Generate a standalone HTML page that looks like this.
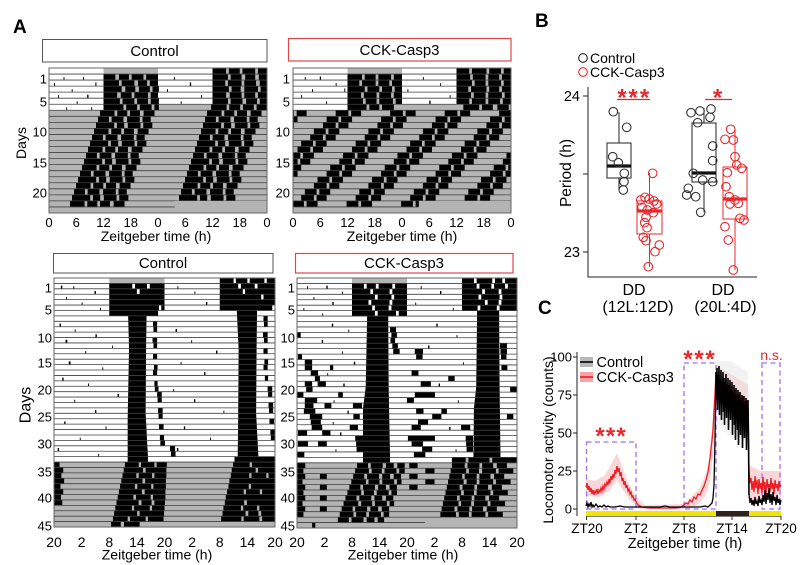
<!DOCTYPE html>
<html><head><meta charset="utf-8"><style>
html,body{margin:0;padding:0;background:#fff}
svg{display:block}
text{font-family:"Liberation Sans",Arial,sans-serif;fill:#000}
</style></head><body>
<svg width="800" height="565" viewBox="0 0 800 565" xmlns="http://www.w3.org/2000/svg">
<defs>
<path id="sE" d="M-15.2 0h2.6v1h-2.6z M-12 0h2.4v1h-2.4z M-3.2 0h2.6v1h-2.6z M0 0h2.4v1h-2.4z M8.8 0h2.6v1h-2.6z M12 0h2.4v1h-2.4z M20.8 0h2.6v1h-2.6z M24 0h2.4v1h-2.4z M32.8 0h2.6v1h-2.6z M36 0h2.4v1h-2.4z M44.8 0h2.6v1h-2.6z M48 0h2.4v1h-2.4z"/>
<path id="sO" d="M-14.6 0h2.8v1h-2.8z M-11.2 0h2.2v1h-2.2z M-2.6 0h2.8v1h-2.8z M0.8 0h2.2v1h-2.2z M9.4 0h2.8v1h-2.8z M12.8 0h2.2v1h-2.2z M21.4 0h2.8v1h-2.8z M24.8 0h2.2v1h-2.2z M33.4 0h2.8v1h-2.8z M36.8 0h2.2v1h-2.2z M45.4 0h2.8v1h-2.8z M48.8 0h2.2v1h-2.2z"/>
<clipPath id="ctr"><rect x="0" y="0" width="48" height="24"/></clipPath>
</defs>
<rect width="800" height="565" fill="#fff"/>

<!-- ================= PANEL A ================= -->
<text x="13" y="33" font-size="19" font-weight="bold">A</text>

<!-- Top-left Control -->
<rect x="42.5" y="39.5" width="224.5" height="22.5" fill="#fff" stroke="#555" stroke-width="1"/>
<text x="154.5" y="56" font-size="15" text-anchor="middle">Control</text>
<g transform="translate(49,68) scale(4.5417,6.04)">
<rect x="0" y="0" width="48" height="24" fill="#b4b4b4"/>
<rect x="0" y="0" width="12" height="7" fill="#fff"/>
<rect x="24" y="0" width="12" height="6" fill="#fff"/>
<path fill="#000" d="M36 0h3v1h-3z M39.6 0h2.4v1h-2.4z M42.6 0h2.8v1h-2.8z M46 0h2v1h-2z
M12 1h2.6v1h-2.6z M15.4 1h2.2v1h-2.2z M18.2 1h2.6v1h-2.6z M21.4 1h2.6v1h-2.6z M36 1h3.4v1h-3.4z M40 1h2.4v1h-2.4z M43.2 1h2.2v1h-2.2z M46.2 1h1.8v1h-1.8z
M12 2h3.4v1h-3.4z M16 2h2.8v1h-2.8z M19.6 2h2v1h-2z M22.2 2h1.8v1h-1.8z M36 2h2.8v1h-2.8z M39.4 2h3v1h-3z M43 2h2.6v1h-2.6z M46.4 2h1.6v1h-1.6z
M12 3h4v1h-4z M16.8 3h2.2v1h-2.2z M19.8 3h2.4v1h-2.4z M22.8 3h1.4v1h-1.4z M36 3h3.6v1h-3.6z M40.2 3h2v1h-2z M43 3h3v1h-3z M46.6 3h1.4v1h-1.4z
M12 4h3v1h-3z M15.8 4h2.4v1h-2.4z M18.8 4h3v1h-3z M22.4 4h1.6v1h-1.6z M36 4h3v1h-3z M39.8 4h2.6v1h-2.6z M43 4h2.4v1h-2.4z M46 4h2v1h-2z
M12 5h3.6v1h-3.6z M16.2 5h2.6v1h-2.6z M19.4 5h2.4v1h-2.4z M22.4 5h1.8v1h-1.8z M36 5h3.4v1h-3.4z M40 5h2.6v1h-2.6z M43.4 5h2.4v1h-2.4z M46.4 5h1.6v1h-1.6z
M12 6h4.4v1h-4.4z M17 6h2.4v1h-2.4z M20 6h2.6v1h-2.6z M23.2 6h1v1h-1z M35.7 6h3.4v1h-3.4z M39.7 6h2.4v1h-2.4z M42.7 6h2.4v1h-2.4z M45.7 6h2.3v1h-2.3z
M11.23 7h3.2v1h-3.2z M15.03 7h2.2v1h-2.2z M17.83 7h2.2v1h-2.2z M20.83 7h2.4v1h-2.4z M34.79 7h3.2v1h-3.2z M38.59 7h2.2v1h-2.2z M41.39 7h2.2v1h-2.2z M44.39 7h2.4v1h-2.4z
M10.79 8h2.4v1h-2.4z M13.79 8h2.6v1h-2.6z M17.19 8h2.8v1h-2.8z M20.59 8h1.8v1h-1.8z M34.35 8h2.4v1h-2.4z M37.35 8h2.6v1h-2.6z M40.75 8h2.8v1h-2.8z M44.15 8h1.8v1h-1.8z
M10.35 9h4v1h-4z M14.95 9h1.6v1h-1.6z M17.35 9h2.8v1h-2.8z M20.75 9h2v1h-2z M33.91 9h4v1h-4z M38.51 9h1.6v1h-1.6z M40.91 9h2.8v1h-2.8z M44.31 9h2v1h-2z
M9.91 10h3.2v1h-3.2z M13.71 10h2.2v1h-2.2z M16.51 10h2.2v1h-2.2z M19.51 10h2.4v1h-2.4z M33.47 10h3.2v1h-3.2z M37.27 10h2.2v1h-2.2z M40.07 10h2.2v1h-2.2z M43.07 10h2.4v1h-2.4z
M9.47 11h2.4v1h-2.4z M12.47 11h2.6v1h-2.6z M15.87 11h2.8v1h-2.8z M19.27 11h1.8v1h-1.8z M33.03 11h2.4v1h-2.4z M36.03 11h2.6v1h-2.6z M39.43 11h2.8v1h-2.8z M42.83 11h1.8v1h-1.8z
M9.03 12h4v1h-4z M13.63 12h1.6v1h-1.6z M16.03 12h2.8v1h-2.8z M19.43 12h2v1h-2z M32.59 12h4v1h-4z M37.19 12h1.6v1h-1.6z M39.59 12h2.8v1h-2.8z M42.99 12h2v1h-2z
M8.59 13h3.2v1h-3.2z M12.39 13h2.2v1h-2.2z M15.19 13h2.2v1h-2.2z M18.19 13h2.4v1h-2.4z M32.15 13h3.2v1h-3.2z M35.95 13h2.2v1h-2.2z M38.75 13h2.2v1h-2.2z M41.75 13h2.4v1h-2.4z
M8.15 14h2.4v1h-2.4z M11.15 14h2.6v1h-2.6z M14.55 14h2.8v1h-2.8z M17.95 14h1.8v1h-1.8z M31.71 14h2.4v1h-2.4z M34.71 14h2.6v1h-2.6z M38.11 14h2.8v1h-2.8z M41.51 14h1.8v1h-1.8z
M7.71 15h4v1h-4z M12.31 15h1.6v1h-1.6z M14.71 15h2.8v1h-2.8z M18.11 15h2v1h-2z M31.27 15h4v1h-4z M35.87 15h1.6v1h-1.6z M38.27 15h2.8v1h-2.8z M41.67 15h2v1h-2z
M7.27 16h3.2v1h-3.2z M11.07 16h2.2v1h-2.2z M13.87 16h2.2v1h-2.2z M16.87 16h2.4v1h-2.4z M30.83 16h3.2v1h-3.2z M34.63 16h2.2v1h-2.2z M37.43 16h2.2v1h-2.2z M40.43 16h2.4v1h-2.4z
M6.83 17h2.4v1h-2.4z M9.83 17h2.6v1h-2.6z M13.23 17h2.8v1h-2.8z M16.63 17h1.8v1h-1.8z M30.39 17h2.4v1h-2.4z M33.39 17h2.6v1h-2.6z M36.79 17h2.8v1h-2.8z M40.19 17h1.8v1h-1.8z
M6.39 18h4v1h-4z M10.99 18h1.6v1h-1.6z M13.39 18h2.8v1h-2.8z M16.79 18h2v1h-2z M29.95 18h4v1h-4z M34.55 18h1.6v1h-1.6z M36.95 18h2.8v1h-2.8z M40.35 18h2v1h-2z
M5.95 19h3.2v1h-3.2z M9.75 19h2.2v1h-2.2z M12.55 19h2.2v1h-2.2z M15.55 19h2.4v1h-2.4z M29.51 19h3.2v1h-3.2z M33.31 19h2.2v1h-2.2z M36.11 19h2.2v1h-2.2z M39.11 19h2.4v1h-2.4z
M5.51 20h2.4v1h-2.4z M8.51 20h2.6v1h-2.6z M11.91 20h2.8v1h-2.8z M15.31 20h1.8v1h-1.8z M29.07 20h2.4v1h-2.4z M32.07 20h2.6v1h-2.6z M35.47 20h2.8v1h-2.8z M38.87 20h1.8v1h-1.8z
M5.07 21h4v1h-4z M9.67 21h1.6v1h-1.6z M12.07 21h2.8v1h-2.8z M15.47 21h2v1h-2z M28.63 21h4v1h-4z M33.23 21h1.6v1h-1.6z M35.63 21h2.8v1h-2.8z M39.03 21h2v1h-2z
M4.63 22h3.2v1h-3.2z M8.43 22h2.2v1h-2.2z M11.23 22h2.2v1h-2.2z M14.23 22h2.4v1h-2.4z
M3.2 1.5h.2v.5h-.2z M7.5 1.5h.2v.5h-.2z M1.1 2.5h.2v.5h-.2z M10.2 2.4h.25v.6h-.25z M5 3.5h.2v.5h-.2z M2 4.5h.2v.5h-.2z M8.4 4.4h.3v.6h-.3z M6.1 5.5h.2v.5h-.2z M3.8 6.5h.2v.5h-.2z M9.3 6.5h.2v.5h-.2z M27.5 1.5h.2v.5h-.2z M31 2.4h.3v.6h-.3z M26 3.5h.2v.5h-.2z M33.5 4.5h.2v.5h-.2z M29 5.5h.2v.5h-.2z"/>
<path d="M0 1H48M0 2H48M0 3H48M0 4H48M0 5H48M0 6H48M0 7H48M0 8H48M0 9H48M0 10H48M0 11H48M0 12H48M0 13H48M0 14H48M0 15H48M0 16H48M0 17H48M0 18H48M0 19H48M0 20H48M0 21H48M0 22H48M0 23H48" stroke="#404040" stroke-width="0.8" vector-effect="non-scaling-stroke" fill="none"/>
<rect x="27.7" y="22" width="20.3" height="2" fill="#b4b4b4"/>
</g>
<rect x="49" y="68" width="218" height="145" fill="none" stroke="#666" stroke-width="1"/>
<g font-size="13" text-anchor="end">
<text x="47" y="83.5">1</text><text x="47" y="106.5">5</text><text x="47" y="136.5">10</text><text x="47" y="167.5">15</text><text x="47" y="197.5">20</text>
</g>
<text transform="translate(26,143) rotate(-90)" font-size="14" text-anchor="middle">Days</text>
<g font-size="13" text-anchor="middle">
<text x="49" y="227">0</text><text x="76.25" y="227">6</text><text x="103.5" y="227">12</text><text x="130.75" y="227">18</text><text x="158" y="227">0</text><text x="185.25" y="227">6</text><text x="212.5" y="227">12</text><text x="239.75" y="227">18</text><text x="267" y="227">0</text>
</g>
<text x="156" y="241" font-size="14" text-anchor="middle">Zeitgeber time (h)</text>

<!-- Top-right CCK-Casp3 -->
<rect x="288.5" y="38.5" width="222.5" height="22.5" fill="#fff" stroke="#e04848" stroke-width="1.2"/>
<text x="399.5" y="55" font-size="15" text-anchor="middle">CCK-Casp3</text>
<g transform="translate(293,68) scale(4.5417,6.04)">
<rect x="0" y="0" width="48" height="24" fill="#b4b4b4"/>
<rect x="0" y="0" width="12" height="7" fill="#fff"/>
<rect x="24" y="0" width="12" height="6" fill="#fff"/>
<path fill="#000" d="M36 0h2.8v1h-2.8z M39.4 0h3.2v1h-3.2z M43.2 0h2.6v1h-2.6z M46.4 0h1.6v1h-1.6z
M12 1h3.2v1h-3.2z M15.8 1h2.4v1h-2.4z M18.8 1h2.8v1h-2.8z M22.2 1h1.8v1h-1.8z M36 1h3v1h-3z M39.6 1h2.8v1h-2.8z M43 1h2.4v1h-2.4z M46 1h2v1h-2z
M12 2h2.6v1h-2.6z M15.2 2h3v1h-3z M18.8 2h2.4v1h-2.4z M21.8 2h2.2v1h-2.2z M36 2h3.4v1h-3.4z M40 2h2.4v1h-2.4z M43 2h2.8v1h-2.8z M46.4 2h1.6v1h-1.6z
M12 3h3.8v1h-3.8z M16.4 3h2.6v1h-2.6z M19.6 3h2.2v1h-2.2z M22.4 3h1.6v1h-1.6z M36 3h2.6v1h-2.6z M39.2 3h3.4v1h-3.4z M43.2 3h2.2v1h-2.2z M46 3h2v1h-2z
M12 4h3v1h-3z M15.6 4h2.8v1h-2.8z M19 4h2.6v1h-2.6z M22.2 4h1.8v1h-1.8z M36 4h3.2v1h-3.2z M39.8 4h2.6v1h-2.6z M43 4h3v1h-3z M46.6 4h1.4v1h-1.4z
M12 5h3.4v1h-3.4z M16 5h2.4v1h-2.4z M19 5h3v1h-3z M22.6 5h1.4v1h-1.4z M36 5h2.8v1h-2.8z M39.4 5h3v1h-3z M43 5h2.6v1h-2.6z M46.2 5h1.8v1h-1.8z
M12 6h4.2v1h-4.2z M16.8 6h2.2v1h-2.2z M19.6 6h2.6v1h-2.6z M37.5 6h3.5v1h-3.5z M41.6 6h2.4v1h-2.4z M45 6h2.5v1h-2.5z
M2.6 1.5h.2v.5h-.2z M5.9 1.4h.25v.6h-.25z M9.4 2.5h.2v.5h-.2z M4.2 3.5h.2v.5h-.2z M11.3 3.4h.2v.6h-.2z M1.8 4.5h.2v.5h-.2z M7.3 5.5h.2v.5h-.2z M28.6 1.5h.2v.5h-.2z M32.4 2.5h.2v.5h-.2z M25.2 3.5h.2v.5h-.2z M34.5 4.5h.2v.5h-.2z M30 5.4h.3v.6h-.3z"/>
<g clip-path="url(#ctr)" fill="#000">
<use href="#sO" x="0" y="7"/>
<use href="#sE" x="10.6" y="8"/>
<use href="#sO" x="9.2" y="9"/>
<use href="#sE" x="7.8" y="10"/>
<use href="#sO" x="6.4" y="11"/>
<use href="#sE" x="5.0" y="12"/>
<use href="#sO" x="3.6" y="13"/>
<use href="#sE" x="2.2" y="14"/>
<use href="#sO" x="0.8" y="15"/>
<use href="#sE" x="11.4" y="16"/>
<use href="#sO" x="10.0" y="17"/>
<use href="#sE" x="8.6" y="18"/>
<use href="#sO" x="7.2" y="19"/>
<use href="#sE" x="5.8" y="20"/>
<use href="#sO" x="4.4" y="21"/>
<use href="#sE" x="3.0" y="22"/>
</g>
<path d="M0 1H48M0 2H48M0 3H48M0 4H48M0 5H48M0 6H48M0 7H48M0 8H48M0 9H48M0 10H48M0 11H48M0 12H48M0 13H48M0 14H48M0 15H48M0 16H48M0 17H48M0 18H48M0 19H48M0 20H48M0 21H48M0 22H48M0 23H48" stroke="#404040" stroke-width="0.8" vector-effect="non-scaling-stroke" fill="none"/>
<rect x="27.7" y="22" width="20.3" height="2" fill="#b4b4b4"/>
</g>
<rect x="293" y="68" width="218" height="145" fill="none" stroke="#666" stroke-width="1"/>
<g font-size="13" text-anchor="end">
<text x="290" y="83.5">1</text><text x="290" y="106.5">5</text><text x="290" y="136.5">10</text><text x="290" y="167.5">15</text><text x="290" y="197.5">20</text>
</g>
<g font-size="13" text-anchor="middle">
<text x="293" y="227">0</text><text x="320.25" y="227">6</text><text x="347.5" y="227">12</text><text x="374.75" y="227">18</text><text x="402" y="227">0</text><text x="429.25" y="227">6</text><text x="456.5" y="227">12</text><text x="483.75" y="227">18</text><text x="511" y="227">0</text>
</g>
<text x="402" y="241" font-size="14" text-anchor="middle">Zeitgeber time (h)</text>

<!-- Bottom-left Control -->
<rect x="53.5" y="253.5" width="219.5" height="19.5" fill="#fff" stroke="#555" stroke-width="1"/>
<text x="163" y="268" font-size="15" text-anchor="middle">Control</text>
<g transform="translate(54,278) scale(4.6042,5.413)">
<rect x="0" y="0" width="48" height="46" fill="#b4b4b4"/>
<rect x="0" y="0" width="48" height="34" fill="#fff"/>
<rect x="12" y="0" width="12" height="1" fill="#b4b4b4"/>
<path fill="#000" d="M36 0h3v1h-3z M39.5 0h2.5v1h-2.5z M42.5 0h3.2v1h-3.2z M46.2 0h1.8v1h-1.8z
M12 1h5v1h-5z M17.6 1h2.6v1h-2.6z M20.8 1h3.2v1h-3.2z M36 1h4v1h-4z M40.6 1h3v1h-3z M44.2 1h3.8v1h-3.8z
M12 2h6v1h-6z M18.6 2h5.4v1h-5.4z M36 2h5v1h-5z M41.5 2h6.5v1h-6.5z
M12 3h12v1h-12z M36 3h9v1h-9z M45.5 3h2.5v1h-2.5z
M12 4h12v1h-12z M36 4h12v1h-12z
M12 5h10.8v1h-10.8z M23.3 5h0.7v1h-0.7z M36 5h11.4v1h-11.4z
M12 6h10.6v1h-10.6z
M16.1 7L20.1 7L20 13L19.9 25L20.4 33L20.4 34L16 34L16 26L16.3 13z
M39.7 6L44.1 6L44 13L43.9 25L44.4 33L39.9 33L40 26L40.1 13z
M39.2 33h8.8v1h-8.8z
M21.5 8h.9v1h-.9z M21.6 9h.8v1h-.8z M21.4 11h1v1h-1z M21.6 12h.8v1h-.8z M21.5 14h.9v1h-.9z M21.7 16h.8v1h-.8z M21.5 17h.9v1h-.9z M21.8 19h.7v1h-.7z M21.9 20h.8v1h-.8z M22.4 21h1v1h-1z M22.5 22h.9v1h-.9z M22.6 24h1v1h-1z M22.7 25h.9v1h-.9z M22.8 27h1v1h-1z M23 29h.9v1h-.9z M23.1 30h1v1h-1z M25.2 31h1.1v1h-1.1z M25.4 32h1v1h-1z
M45.5 7h.9v1h-.9z M45.6 8h.8v1h-.8z M45.4 10h1v1h-1z M45.6 11h.8v1h-.8z M45.5 13h.9v1h-.9z M45.7 15h.8v1h-.8z M45.5 16h.9v1h-.9z M45.8 18h.7v1h-.7z M46.4 20h1v1h-1z M46.5 21h.9v1h-.9z M46.6 23h1v1h-1z M46.7 24h.9v1h-.9z M46.8 26h1v1h-1z M47 28h.9v1h-.9z M47.1 29h.9v1h-.9z
M0 34h1.2v1h-1.2z M15.4 34h3v1h-3z M18.9 34h2.9v1h-2.9z M22.3 34h2.2v1h-2.2z M38.9 34h3.6v1h-3.6z M43 34h5v1h-5z
M0 35h2v1h-2z M15.14 35h4.2v1h-4.2z M19.9 35h4.5v1h-4.5z M38.6 35h5.2v1h-5.2z M44.3 35h3.7v1h-3.7z
M0 36h1.6v1h-1.6z M14.88 36h3v1h-3z M18.4 36h2.9v1h-2.9z M21.8 36h2.6v1h-2.6z M38.4 36h4v1h-4z M42.9 36h3.2v1h-3.2z M46.6 36h1.4v1h-1.4z
M0 37h2.2v1h-2.2z M14.62 37h4.6v1h-4.6z M19.8 37h4.5v1h-4.5z M38.1 37h9.9v1h-9.9z
M0 38h1.4v1h-1.4z M14.36 38h3.2v1h-3.2z M18.1 38h3v1h-3z M21.6 38h2.7v1h-2.7z M37.9 38h4.4v1h-4.4z M42.8 38h5.2v1h-5.2z
M0 39h2v1h-2z M14.1 39h5v1h-5z M19.7 39h4.5v1h-4.5z M37.6 39h3.6v1h-3.6z M41.7 39h3v1h-3z M45.2 39h2.8v1h-2.8z
M0 40h1.5v1h-1.5z M13.84 40h3.4v1h-3.4z M17.8 40h3.2v1h-3.2z M21.5 40h2.7v1h-2.7z M37.3 40h10.7v1h-10.7z
M0 41h1.8v1h-1.8z M13.58 41h4.8v1h-4.8z M19 41h2.2v1h-2.2z M21.8 41h2.3v1h-2.3z M37.1 41h4.2v1h-4.2z M41.9 41h6.1v1h-6.1z
M13.32 42h3.6v1h-3.6z M17.4 42h3.4v1h-3.4z M21.3 42h2.7v1h-2.7z M36.8 42h3.8v1h-3.8z M41.1 42h3v1h-3z M44.6 42h3.4v1h-3.4z
M13.06 43h5v1h-5z M18.6 43h5.3v1h-5.3z M36.6 43h5v1h-5z M42.2 43h2.2v1h-2.2z M45 43h3v1h-3z
M12.8 44h3.2v1h-3.2z M16.5 44h3.4v1h-3.4z M20.4 44h3.4v1h-3.4z M36.3 44h4.4v1h-4.4z M41.2 44h3.4v1h-3.4z M45.2 44h2.8v1h-2.8z
M12.4 45h2.1v1h-2.1z M15.2 45h3.4v1h-3.4z
M1.5 1.4h.3v.6h-.3z M4.2 1.5h.2v.5h-.2z M8.8 2.4h.3v.6h-.3z M2.6 3.5h.2v.5h-.2z M6 4.5h.2v.5h-.2z M10 5.5h.2v.5h-.2z M26.8 1.5h.2v.5h-.2z M30.5 2.5h.2v.5h-.2z M33 4.4h.3v.6h-.3z
M1.2 8.4h.3v.6h-.3z M4.5 9.5h.2v.5h-.2z M9 10.4h.3v.6h-.3z M2.5 11.4h.4v.6h-.4z M12.6 12.5h.2v.5h-.2z M6.8 13.5h.2v.5h-.2z M3.2 15.4h.4v.6h-.4z M10.5 16.5h.2v.5h-.2z M1.8 18.4h.3v.6h-.3z M7.4 19.5h.2v.5h-.2z M13.8 21.4h.3v.6h-.3z M4.4 22.5h.2v.5h-.2z M8.9 24.4h.3v.6h-.3z M2.2 26.5h.3v.5h-.3z M11.2 27.4h.2v.6h-.2z M5.6 29.5h.2v.5h-.2z M0.8 31.4h.3v.6h-.3z M9.6 32.5h.2v.5h-.2z
M26.4 9.4h.3v.6h-.3z M29.8 11.5h.2v.5h-.2z M35.2 13.4h.3v.6h-.3z M27.5 15.5h.2v.5h-.2z M32.6 17.4h.3v.6h-.3z M25.9 20.5h.2v.5h-.2z M30.4 22.4h.3v.6h-.3z M36.8 24.5h.2v.5h-.2z M28.2 27.4h.3v.6h-.3z M33.9 29.5h.2v.5h-.2z M26.7 31.4h.3v.6h-.3z"/>
<path d="M0 1H48M0 2H48M0 3H48M0 4H48M0 5H48M0 6H48M0 7H48M0 8H48M0 9H48M0 10H48M0 11H48M0 12H48M0 13H48M0 14H48M0 15H48M0 16H48M0 17H48M0 18H48M0 19H48M0 20H48M0 21H48M0 22H48M0 23H48M0 24H48M0 25H48M0 26H48M0 27H48M0 28H48M0 29H48M0 30H48M0 31H48M0 32H48M0 33H48M0 34H48M0 35H48M0 36H48M0 37H48M0 38H48M0 39H48M0 40H48M0 41H48M0 42H48M0 43H48M0 44H48M0 45H48" stroke="#404040" stroke-width="0.8" vector-effect="non-scaling-stroke" fill="none"/>
<rect x="27.6" y="45.1" width="20.4" height="0.9" fill="#b4b4b4"/>
</g>
<rect x="54" y="278" width="221" height="249" fill="none" stroke="#666" stroke-width="1"/>
<g font-size="13" text-anchor="end">
<text x="52" y="292.5">1</text><text x="52" y="314.5">5</text><text x="52" y="342.5">10</text><text x="52" y="367.5">15</text><text x="52" y="394.5">20</text><text x="52" y="421.5">25</text><text x="52" y="448.5">30</text><text x="52" y="476.5">35</text><text x="52" y="502.5">40</text><text x="52" y="530.5">45</text>
</g>
<text transform="translate(30.5,405) rotate(-90)" font-size="16" text-anchor="middle">Days</text>
<g font-size="14" text-anchor="middle">
<text x="54" y="547">20</text><text x="81.6" y="547">2</text><text x="109.25" y="547">8</text><text x="136.9" y="547">14</text><text x="164.5" y="547">20</text><text x="192.1" y="547">2</text><text x="219.75" y="547">8</text><text x="247.4" y="547">14</text><text x="275" y="547">20</text>
</g>
<text x="157" y="559.5" font-size="14" text-anchor="middle">Zeitgeber time (h)</text>

<!-- Bottom-right CCK-Casp3 -->
<rect x="295.5" y="253.5" width="217.5" height="19.5" fill="#fff" stroke="#e04848" stroke-width="1.2"/>
<text x="404" y="268" font-size="15" text-anchor="middle">CCK-Casp3</text>
<g transform="translate(297,278) scale(4.5833,5.435)">
<rect x="0" y="0" width="48" height="46" fill="#b4b4b4"/>
<rect x="0" y="0" width="48" height="34" fill="#fff"/>
<rect x="12" y="0" width="12" height="1" fill="#b4b4b4"/>
<rect x="33.8" y="33" width="14.2" height="1" fill="#b4b4b4"/>
<path fill="#000" d="M36 0h2.6v1h-2.6z M39.2 0h3.4v1h-3.4z M43.2 0h1.6v1h-1.6z M45.4 0h2.6v1h-2.6z
M12 1h2.6v1h-2.6z M15.2 1h2v1h-2z M17.8 1h3v1h-3z M21.4 1h2.6v1h-2.6z M36 1h3.2v1h-3.2z M39.8 1h2.6v1h-2.6z M43 1h2.4v1h-2.4z M46 1h2v1h-2z
M12 2h4v1h-4z M16.6 2h3.6v1h-3.6z M20.8 2h3.2v1h-3.2z M36 2h4.4v1h-4.4z M41 2h3v1h-3z M44.6 2h3.4v1h-3.4z
M12 3h5v1h-5z M17.6 3h3v1h-3z M21.2 3h2.8v1h-2.8z M36 3h3.6v1h-3.6z M40.2 3h4v1h-4z M44.8 3h3.2v1h-3.2z
M12 4h3.6v1h-3.6z M16.2 4h4v1h-4z M20.8 4h3.2v1h-3.2z M36 4h5v1h-5z M41.6 4h2.4v1h-2.4z M44.6 4h3.4v1h-3.4z
M12 5h4.4v1h-4.4z M17 5h3v1h-3z M20.6 5h3.4v1h-3.4z M36 5h3.4v1h-3.4z M40 5h3.6v1h-3.6z M44.2 5h3.8v1h-3.8z
M12 6h5v1h-5z M17.6 6h4v1h-4z M22.2 6h1.8v1h-1.8z
M15.3 7L19.9 7L20 20L20.3 33L20.3 34L14.4 34L14.4 24L15 20z
M39.3 6L44.1 6L44.2 20L44.4 33L38.5 33L38.6 24L39.1 20z
M20.3 9h1.3v1h-1.3z M0 10h.8v1h-.8z M20.6 10h1.2v1h-1.2z M20.4 11h1v1h-1z M20.8 12h1.2v1h-1.2z M21 13h1.4v1h-1.4z
M0.2 14h.9v1h-.9z M1.7 15h1.6v1h-1.6z M1.7 16h1.6v1h-1.6z M7.2 16h.7v1h-.7z M3.9 18h1.1v1h-1.1z M1.7 19h1.6v1h-1.6z M2 20h1.4v1h-1.4z M9 21h1v1h-1z M0 21h1.4v1h-1.4z M3 17h1.6v1h-1.6z M4.5 19h1.8v1h-1.8z M1.5 24h2.5v1h-2.5z M6 23h1.5v1h-1.5z
M1.7 22h2.7v1h-2.7z M1.7 23h1.9v1h-1.9z M12.2 23h2v1h-2z M2.8 25h2.7v1h-2.7z M3 26h2.2v1h-2.2z M3.2 27h2.3v1h-2.3z M0.2 28h2v1h-2z M12.7 29h1.7v1h-1.7z M0.2 30h2.2v1h-2.2z M4.6 30h1.9v1h-1.9z M12.9 30h1.9v1h-1.9z M13 31h1.6v1h-1.6z M0 32h1.6v1h-1.6z M5.5 28h1.8v1h-1.8z M11.5 27h1.8v1h-1.8z M12.3 25h1.4v1h-1.4z
M25.7 13h1.8v1h-1.8z M26 14h1.4v1h-1.4z M25 17h1.5v1h-1.5z M25.7 21h4.4v1h-4.4z M24 22h1.5v1h-1.5z M26 24h1.6v1h-1.6z M26.4 26h2.2v1h-2.2z M25 27h2v1h-2z M24.2 29h5.9v1h-5.9z M25 30h2.5v1h-2.5z M27.3 31h2.2v1h-2.2z M33 18h1.4v1h-1.4z M31.5 24h1.2v1h-1.2z M27 19h2.2v1h-2.2z M29.5 25h2v1h-2z M35.8 27h2v1h-2z M25.5 32h2.5v1h-2.5z
M44.3 12h1.5v1h-1.5z M44.4 13h1.4v1h-1.4z M44.5 14h1.2v1h-1.2z M44.6 16h1.3v1h-1.3z M36.8 29h1.6v1h-1.6z M36.9 30h1.5v1h-1.5z M37 31h1.4v1h-1.4z M46.5 20h1.5v1h-1.5z M45.8 25h1.4v1h-1.4z
M33.8 33h3v1h-3z M37.4 33h4.6v1h-4.6z M42.6 33h5.4v1h-5.4z
M0 34h1.8v1h-1.8z M13.1 34h2.4v1h-2.4z M16.1 34h2.6v1h-2.6z M19.4 34h1.7v1h-1.7z M21.9 34h1.6v1h-1.6z M24.5 34h1.8v1h-1.8z M33.8 34h2.8v1h-2.8z M37.2 34h2.6v1h-2.6z M40.4 34h2.4v1h-2.4z M43.6 34h2.2v1h-2.2z
M0 35h1.4v1h-1.4z M12.68 35h3v1h-3z M16.3 35h2.2v1h-2.2z M19.1 35h2.6v1h-2.6z M22.3 35h1.2v1h-1.2z M28 35h2v1h-2z M33.52 35h3.4v1h-3.4z M37.5 35h2.2v1h-2.2z M40.4 35h3v1h-3z M44 35h3.2v1h-3.2z
M0 36h1.8v1h-1.8z M5 36h1.5v1h-1.5z M12.26 36h2.4v1h-2.4z M15.3 36h2.6v1h-2.6z M18.6 36h1.7v1h-1.7z M21.1 36h1.6v1h-1.6z M24.5 36h1.8v1h-1.8z M33.24 36h2.8v1h-2.8z M36.6 36h2.6v1h-2.6z M39.8 36h2.4v1h-2.4z M43 36h2.2v1h-2.2z
M0 37h1.2v1h-1.2z M11.84 37h3.2v1h-3.2z M15.6 37h2.4v1h-2.4z M18.6 37h2.6v1h-2.6z M21.8 37h1v1h-1z M28 37h2v1h-2z M32.96 37h3.4v1h-3.4z M37 37h2.2v1h-2.2z M39.8 37h3v1h-3z M43.4 37h3.2v1h-3.2z
M0 38h1.8v1h-1.8z M5 38h1.5v1h-1.5z M11.42 38h2.4v1h-2.4z M14.4 38h2.6v1h-2.6z M17.7 38h1.7v1h-1.7z M20.2 38h1.6v1h-1.6z M24.5 38h1.8v1h-1.8z M32.68 38h2.8v1h-2.8z M36.1 38h2.6v1h-2.6z M39.3 38h2.4v1h-2.4z M42.5 38h2.2v1h-2.2z
M0 39h1.4v1h-1.4z M11 39h3v1h-3z M14.6 39h2.2v1h-2.2z M17.4 39h2.6v1h-2.6z M20.6 39h1.2v1h-1.2z M32.4 39h3.4v1h-3.4z M36.4 39h2.2v1h-2.2z M39.2 39h3v1h-3z M42.8 39h3.2v1h-3.2z
M0 40h1.8v1h-1.8z M5 40h1.5v1h-1.5z M10.58 40h2.4v1h-2.4z M13.6 40h2.6v1h-2.6z M16.9 40h1.7v1h-1.7z M19.4 40h1.6v1h-1.6z M32.12 40h2.8v1h-2.8z M35.5 40h2.6v1h-2.6z M38.7 40h2.4v1h-2.4z M41.9 40h2.2v1h-2.2z
M0 41h1.2v1h-1.2z M10.16 41h3.2v1h-3.2z M14 41h2.4v1h-2.4z M17 41h2.6v1h-2.6z M20.2 41h1v1h-1z M31.84 41h3.4v1h-3.4z M35.8 41h2.2v1h-2.2z M38.6 41h3v1h-3z M42.2 41h3.2v1h-3.2z
M0 42h1.8v1h-1.8z M5 42h1.5v1h-1.5z M9.74 42h2.4v1h-2.4z M12.7 42h2.6v1h-2.6z M16 42h1.7v1h-1.7z M18.5 42h1.6v1h-1.6z M31.56 42h2.8v1h-2.8z M35 42h2.6v1h-2.6z M38.2 42h2.4v1h-2.4z M41.4 42h2.2v1h-2.2z
M0 43h1.4v1h-1.4z M9.32 43h3v1h-3z M12.9 43h2.2v1h-2.2z M15.7 43h2.6v1h-2.6z M18.9 43h1.2v1h-1.2z M31.28 43h3.4v1h-3.4z M35.3 43h2.2v1h-2.2z M38.1 43h3v1h-3z M41.7 43h3.2v1h-3.2z
M8.9 44h2.4v1h-2.4z M11.9 44h2.6v1h-2.6z M15.2 44h1.7v1h-1.7z M17.6 44h1.4v1h-1.4z
M3.3 45h.7v1h-.7z
M2.2 1.5h.2v.5h-.2z M6.4 1.4h.3v.6h-.3z M9.8 2.5h.2v.5h-.2z M3.6 3.5h.2v.5h-.2z M7.7 4.4h.3v.6h-.3z M1.4 5.5h.2v.5h-.2z M5.5 6.5h.2v.5h-.2z M27 1.5h.2v.5h-.2z M31.2 2.4h.3v.6h-.3z M25.8 4.5h.2v.5h-.2z M34 5.5h.2v.5h-.2z
M7.6 8.4h.3v.6h-.3z M11.2 9.5h.2v.5h-.2z M5.4 11.4h.3v.6h-.3z M9.8 13.5h.2v.5h-.2z M12.4 15.4h.3v.6h-.3z M6.6 17.5h.2v.5h-.2z M10.1 19.4h.3v.6h-.3z M8 22.5h.2v.5h-.2z M11 24.4h.3v.6h-.3z M7.8 26.5h.2v.5h-.2z M9.4 28.4h.3v.6h-.3z M8.4 31.5h.2v.5h-.2z
M30.4 8.4h.3v.6h-.3z M34.8 10.5h.2v.5h-.2z M28.6 12.4h.3v.6h-.3z M36.2 15.5h.2v.5h-.2z M30.9 19.4h.3v.6h-.3z M35.1 22.5h.2v.5h-.2z M33.2 27.4h.3v.6h-.3z M34.6 31.5h.2v.5h-.2z"/>
<path d="M0 1H48M0 2H48M0 3H48M0 4H48M0 5H48M0 6H48M0 7H48M0 8H48M0 9H48M0 10H48M0 11H48M0 12H48M0 13H48M0 14H48M0 15H48M0 16H48M0 17H48M0 18H48M0 19H48M0 20H48M0 21H48M0 22H48M0 23H48M0 24H48M0 25H48M0 26H48M0 27H48M0 28H48M0 29H48M0 30H48M0 31H48M0 32H48M0 33H48M0 34H48M0 35H48M0 36H48M0 37H48M0 38H48M0 39H48M0 40H48M0 41H48M0 42H48M0 43H48M0 44H48M0 45H48" stroke="#404040" stroke-width="0.8" vector-effect="non-scaling-stroke" fill="none"/>
<rect x="27.9" y="44.1" width="20.1" height="1.9" fill="#b4b4b4"/>
</g>
<rect x="297" y="278" width="220" height="250" fill="none" stroke="#666" stroke-width="1"/>
<g font-size="13" text-anchor="end">
<text x="295" y="292.5">1</text><text x="295" y="314.5">5</text><text x="295" y="342.5">10</text><text x="295" y="367.5">15</text><text x="295" y="394.5">20</text><text x="295" y="421.5">25</text><text x="295" y="448.5">30</text><text x="295" y="476.5">35</text><text x="295" y="502.5">40</text><text x="295" y="530.5">45</text>
</g>
<g font-size="14" text-anchor="middle">
<text x="297" y="547">20</text><text x="324.5" y="547">2</text><text x="352" y="547">8</text><text x="379.5" y="547">14</text><text x="407" y="547">20</text><text x="434.5" y="547">2</text><text x="462" y="547">8</text><text x="489.5" y="547">14</text><text x="517" y="547">20</text>
</g>
<text x="403" y="559.5" font-size="14" text-anchor="middle">Zeitgeber time (h)</text>

<!-- ================= PANEL B ================= -->
<text x="535" y="27" font-size="19" font-weight="bold">B</text>
<circle cx="583" cy="58" r="4.3" fill="none" stroke="#222" stroke-width="1.1"/>
<text x="590" y="63" font-size="14">Control</text>
<circle cx="583" cy="72" r="4.3" fill="none" stroke="#e8282d" stroke-width="1.1"/>
<text x="590" y="77" font-size="14">CCK-Casp3</text>

<path d="M588 87V277H757" fill="none" stroke="#222" stroke-width="1"/>
<path d="M583 96H588M583 174H588M583 252H588" stroke="#222" stroke-width="1"/>
<text x="580" y="101" font-size="14.5" text-anchor="end">24</text>
<text x="580" y="257" font-size="14.5" text-anchor="end">23</text>
<text transform="translate(571,173) rotate(-90)" font-size="15.5" text-anchor="middle">Period (h)</text>

<g font-size="24" font-weight="bold" text-anchor="middle">
<text x="622" y="105.5" style="fill:#e8282d">*</text>
<text x="633" y="105.5" style="fill:#e8282d">*</text>
<text x="644.5" y="105.5" style="fill:#e8282d">*</text>
<text x="717.5" y="105.5" style="fill:#e8282d">*</text>
</g>
<line x1="617" y1="99.5" x2="650" y2="99.5" stroke="#e8282d" stroke-width="1.2"/>
<line x1="705" y1="99.5" x2="732" y2="99.5" stroke="#e8282d" stroke-width="1.2"/>

<!-- boxes -->
<g fill="none" stroke="#222" stroke-width="1">
<rect x="607" y="143" width="24" height="35"/>
<path d="M619 112V143M619 178V190"/>
<rect x="692" y="123" width="24" height="59"/>
<path d="M704 108V123M704 182V212"/>
</g>
<path d="M607 166H631M692 173H716" stroke="#111" stroke-width="3.2"/>
<g fill="none" stroke="#e8282d" stroke-width="1">
<rect x="637" y="201" width="25" height="33"/>
<path d="M649.5 173V201M649.5 234V267"/>
<rect x="723" y="167" width="24" height="52"/>
<path d="M735 129V167M735 219V270"/>
</g>
<path d="M637 211H662M723 199H747" stroke="#e8282d" stroke-width="3.2"/>
<g fill="none" stroke="#333" stroke-width="1.1">
<circle cx="613.3" cy="111.7" r="4.3"/><circle cx="626.7" cy="127.3" r="4.3"/><circle cx="612.7" cy="156.7" r="4.3"/><circle cx="618.3" cy="162.7" r="4.3"/><circle cx="624.3" cy="173.3" r="4.3"/><circle cx="624" cy="181.7" r="4.3"/><circle cx="623.3" cy="190" r="4.3"/>
<circle cx="691" cy="112.7" r="4.3"/><circle cx="700" cy="111" r="4.3"/><circle cx="711" cy="109" r="4.3"/><circle cx="710" cy="117.3" r="4.3"/><circle cx="697.7" cy="122.7" r="4.3"/><circle cx="712.7" cy="146" r="4.3"/><circle cx="712.7" cy="160.7" r="4.3"/><circle cx="693.3" cy="173.3" r="4.3"/><circle cx="702.7" cy="180" r="4.3"/><circle cx="712.7" cy="181.7" r="4.3"/><circle cx="688.3" cy="188.3" r="4.3"/><circle cx="686.7" cy="195" r="4.3"/><circle cx="695.7" cy="196.7" r="4.3"/><circle cx="700.7" cy="212.3" r="4.3"/>
</g>
<g fill="none" stroke="#e8282d" stroke-width="1.1">
<circle cx="652.7" cy="173.3" r="4.3"/><circle cx="640.7" cy="200" r="4.3"/><circle cx="645" cy="197.3" r="4.3"/><circle cx="649.3" cy="199" r="4.3"/><circle cx="654" cy="201" r="4.3"/><circle cx="656.7" cy="204" r="4.3"/><circle cx="642" cy="207.3" r="4.3"/><circle cx="647.3" cy="210" r="4.3"/><circle cx="653.3" cy="212.7" r="4.3"/><circle cx="646" cy="217.3" r="4.3"/><circle cx="644.7" cy="222.7" r="4.3"/><circle cx="647" cy="227.7" r="4.3"/><circle cx="643.3" cy="237.3" r="4.3"/><circle cx="646" cy="240.7" r="4.3"/><circle cx="659.3" cy="245" r="4.3"/><circle cx="655" cy="251.7" r="4.3"/><circle cx="648.3" cy="266.7" r="4.3"/>
<circle cx="730.7" cy="129.3" r="4.3"/><circle cx="725" cy="139.3" r="4.3"/><circle cx="733.3" cy="140" r="4.3"/><circle cx="735" cy="156.7" r="4.3"/><circle cx="736.7" cy="165" r="4.3"/><circle cx="741.7" cy="168.3" r="4.3"/><circle cx="727.3" cy="172.7" r="4.3"/><circle cx="726" cy="186.7" r="4.3"/><circle cx="729.3" cy="196.7" r="4.3"/><circle cx="735" cy="200" r="4.3"/><circle cx="730" cy="204" r="4.3"/><circle cx="738.3" cy="203.3" r="4.3"/><circle cx="740" cy="218.3" r="4.3"/><circle cx="744" cy="220" r="4.3"/><circle cx="725" cy="226.7" r="4.3"/><circle cx="728.3" cy="240" r="4.3"/><circle cx="733.3" cy="270" r="4.3"/>
</g>
<text x="634" y="295" font-size="16" text-anchor="middle">DD</text>
<text x="638" y="312" font-size="16" text-anchor="middle">(12L:12D)</text>
<text x="723" y="295" font-size="16" text-anchor="middle">DD</text>
<text x="725.5" y="312" font-size="16" text-anchor="middle">(20L:4D)</text>

<!-- ================= PANEL C ================= -->
<text x="538" y="314" font-size="19" font-weight="bold">C</text>
<path d="M577 352V516" stroke="#222" stroke-width="1" fill="none"/>
<path d="M573 357H577M573 395H577M573 433H577M573 471H577M573 509H577" stroke="#222" stroke-width="1"/>
<g font-size="13" text-anchor="end">
<text x="572" y="361.5">100</text><text x="572" y="399.5">75</text><text x="572" y="437.5">50</text><text x="572" y="475.5">25</text><text x="572" y="513.5">0</text>
</g>
<text transform="translate(553,440) rotate(-90)" font-size="14" text-anchor="middle">Locomotor activity (counts)</text>
<path d="M586 516.5H781" stroke="#555" stroke-width="0.8"/>
<path d="M586.5 516V520M636 516V520M684 516V520M732 516V520M781 516V520" stroke="#333" stroke-width="1"/>
<g font-size="13.5" text-anchor="middle">
<text x="587" y="533">ZT20</text><text x="636" y="533">ZT2</text><text x="684" y="533">ZT8</text><text x="732" y="533">ZT14</text><text x="781" y="533">ZT20</text>
</g>
<text x="685" y="548" font-size="14.5" text-anchor="middle">Zeitgeber time (h)</text>

<!-- shading -->
<polygon fill="#f8b4ba" opacity="0.55" points="586,479 595,481 605,475 612,463 617,453 622,466 628,482 636,497 645,505 684,504 700,488 708,468 712,430 715,375 716,365 748,385 749,465 760,471 781,471 781,500 760,500 750,500 749,420 730,410 716,400 714,445 710,482 705,496 700,503 690,509 640,509 630,500 622,489 617,480 610,490 600,497 586,496"/>
<polygon fill="#e2e2e2" opacity="0.45" points="716,360 732,362 748,372 748,440 732,438 716,422"/>

<!-- yellow/dark bar -->
<rect x="586" y="511" width="130" height="5" fill="#f2e600"/>
<rect x="716" y="511" width="33" height="5" fill="#2e2419"/>
<rect x="749" y="511" width="32" height="5" fill="#f2e600"/>

<!-- dashed boxes -->
<g fill="none" stroke="#a070f0" stroke-width="1.3" stroke-dasharray="5,3.5">
<rect x="586.5" y="442" width="49.5" height="67"/>
<rect x="684" y="363" width="32" height="146"/>
<rect x="762" y="363" width="18" height="146"/>
</g>

<!-- red curve -->
<polyline fill="none" stroke="#ee1c24" stroke-width="1.3" points="586,487 587,483 588,490 589,486 590,492 591,488 592,494 593,490 594,495 595,491 596,493 597,489 598,494 599,490 600,492 601,488 602,491 603,486 604,489 605,484 606,486 607,482 608,485 609,479 610,483 611,476 612,480 613,474 614,478 615,470 616,474 617,466 618,472 619,468 620,476 621,472 622,481 623,478 624,485 625,481 626,488 627,485 628,491 629,489 630,494 631,492 632,497 633,496 634,500 635,499 636,502 637,503 638,505 640,506 642,507 645,507.5 650,508 655,508 660,508 665,508 670,508 675,508 680,507.5 684,505 686,503 688,504 690,500 692,502 694,497 696,499 698,494 700,495 702,490 704,486 706,480 708,472 710,458 712,440 713,430 714,412 715,395 716,375 717,380 718,392 719,376 720,395 721,383 722,398 723,380 724,392 725,386 726,401 727,384 728,396 729,389 730,404 731,387 732,400 733,392 734,410 735,390 736,402 737,395 738,412 739,393 740,405 741,398 742,414 743,396 744,408 745,401 746,416 747,400 748,410 749,470 750,483 751,478 752,490 753,481 754,492 755,476 756,488 757,480 758,494 759,479 760,489 761,483 762,493 763,477 764,490 765,482 766,495 767,479 768,488 769,484 770,492 771,478 772,489 773,483 774,494 775,480 776,488 777,484 778,491 779,481 780,487 781,485"/>
<!-- black curve -->
<polyline fill="none" stroke="#000" stroke-width="1.3" points="586,506 587,503 588,507 589,504 590,506 591,502 592,507 593,505 594,507 596,504 598,507 600,506 602,507 604,505 606,507 608,506 610,507 615,507 620,506 625,507 630,507 640,507 650,507 660,507 665,506 670,507 680,507 690,507 700,507 705,506 708,507 710,505 712,503 713,498 714,485 715,440 716,372"/>
<polyline fill="none" stroke="#000" stroke-width="1.6" points="716,372 716.5,400 717,368 717.5,410 718,375 718.5,398 719,366 719.5,415 720,380 720.5,402 721,370 721.5,420 722,385 722.5,398 723,372 723.5,412 724,378 724.5,425 725,382 725.5,400 726,374 726.5,418 727,388 727.5,405 728,378 728.5,430 729,385 729.5,408 730,380 730.5,420 731,390 731.5,410 732,382 732.5,435 733,392 733.5,412 734,385 734.5,425 735,395 735.5,440 736,388 736.5,415 737,398 737.5,430 738,390 738.5,445 739,396 739.5,418 740,392 740.5,435 741,400 741.5,420 742,395 742.5,448 743,402 743.5,422 744,396 744.5,438 745,404 745.5,425 746,398 746.5,450 747,405 747.5,428 748,400 748.5,440 749,495"/>
<polyline fill="none" stroke="#000" stroke-width="1.3" points="749,495 750,503 751,498 752,505 753,500 754,506 755,497 756,504 757,501 758,506 759,496 760,503 761,500 762,505 763,495 764,502 765,490 766,504 767,493 768,500 769,488 770,503 771,494 772,505 773,492 774,501 775,497 776,505 777,495 778,503 779,499 780,505 781,500"/>

<!-- legend C -->
<rect x="580" y="357" width="13" height="10" fill="#b8b8b8"/>
<line x1="580" y1="362" x2="593" y2="362" stroke="#000" stroke-width="1.6"/>
<text x="596.5" y="367" font-size="14.5">Control</text>
<rect x="580" y="372" width="13" height="10" fill="#f7a3aa"/>
<line x1="580" y1="377" x2="593" y2="377" stroke="#ee1c24" stroke-width="1.6"/>
<text x="596.5" y="382" font-size="14.5">CCK-Casp3</text>

<!-- significance C -->
<g font-size="24" font-weight="bold" text-anchor="middle">
<text x="600" y="444" style="fill:#e8282d">*</text><text x="610.5" y="444" style="fill:#e8282d">*</text><text x="621" y="444" style="fill:#e8282d">*</text>
<text x="688" y="367" style="fill:#e8282d">*</text><text x="699" y="367" style="fill:#e8282d">*</text><text x="710" y="367" style="fill:#e8282d">*</text>
</g>
<text x="771.5" y="360" font-size="14" text-anchor="middle" style="fill:#e8282d">n.s.</text>
</svg>
</body></html>
